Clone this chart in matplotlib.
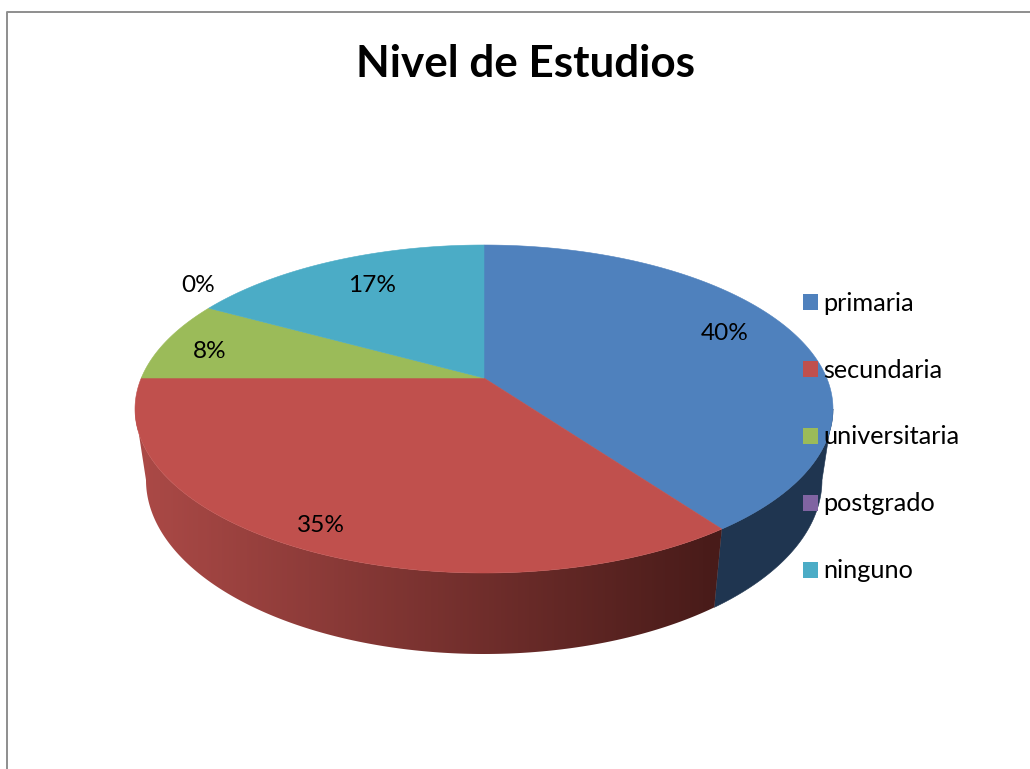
import numpy as np
import matplotlib
matplotlib.use("Agg")
import matplotlib.pyplot as plt
from matplotlib.colors import LinearSegmentedColormap
from matplotlib.patches import Patch, Polygon

categories = ["primaria", "secundaria", "universitaria", "postgrado", "ninguno"]
shares = [40, 35, 8, 0, 17]
colors = ["#4F81BD", "#C0504D", "#9BBB59", "#8064A2", "#4BACC6"]

plt.rcParams['font.family'] = ['Lato', 'DejaVu Sans']

# pixel positions of the percent labels
label_x = [725, 321, 210, 198, 372]
label_y = [333, 525, 352, 285, 286]

fig = plt.figure(figsize=(10.3, 7.69), dpi=100)
ax = fig.add_axes([0, 0, 1, 1])

# perspective of the disc, angle is clockwise from the top
persp = 0.189


def disc(theta, cy, rx, ry):
    u, v = np.sin(theta), np.cos(theta)
    w = 1 + persp * v
    x = 484 + rx * np.sqrt(1 - persp**2) * u / w
    y = cy - persp * ry - ry * (1 - persp**2) * v / w
    return x, y


def top(theta):
    return disc(theta, 409, 349, 164)


def bottom(theta):
    return disc(theta, 480, 338, 174)


def wall_outline(start, end):
    t = np.linspace(start, end, 200)
    xt, yt = top(t)
    xb, yb = bottom(t)
    return np.column_stack([np.r_[xt, xb[::-1]], np.r_[yt, yb[::-1]]])


edges = np.cumsum([0] + shares) / 100 * 2 * np.pi

# where the disc is widest, the side of the pie ends there
side_r = np.arccos(-persp)
side_l = 2 * np.pi - side_r

# side of the pie, only primaria and secundaria show
ax.add_patch(Polygon(wall_outline(side_r, edges[1]), closed=True, facecolor="#1F3550",
                     edgecolor="#1F3550", linewidth=0.4, zorder=2))

red_map = LinearSegmentedColormap.from_list("red_side", ["#AA4946", "#481B19"])
red_wall = Polygon(wall_outline(edges[1], side_l), closed=True, facecolor="none",
                   edgecolor="none", zorder=2)
ax.add_patch(red_wall)
# gradient runs along x, flat past both ends of the visible wall
shade = np.clip((np.arange(130, 730) - 146) / 570, 0, 1)
img = ax.imshow(shade.reshape(1, -1), cmap=red_map, aspect="auto",
                extent=(130, 730, 700, 370), zorder=2)
img.set_clip_path(red_wall)

ax.set_xlim(0, 1030)
ax.set_ylim(769, 0)
ax.axis("off")

# top of the pie
for i in range(len(shares)):
    if shares[i] == 0:
        continue
    t = np.linspace(edges[i], edges[i + 1], 200)
    x, y = top(t)
    pts = np.column_stack([np.r_[484, x], np.r_[378, y]])
    ax.add_patch(Polygon(pts, closed=True, facecolor=colors[i], edgecolor=colors[i], linewidth=0.4, zorder=3))

# percent labels
for i in range(len(shares)):
    ax.text(label_x[i], label_y[i], "%d%%" % shares[i], fontsize=17.6, color="black",
            ha="center", va="center", zorder=5)

# chart border, runs off the bottom and right of the picture
ax.plot([7, 7, 1030], [769, 11.5, 11.5], color="#8E8E8E", linewidth=1.4, zorder=1)

ax.text(526, 64, "Nivel de Estudios", fontsize=31.7, fontweight="bold", color="black",
        ha="center", va="center")

handles = [Patch(facecolor=c, edgecolor="none") for c in colors]
leg = ax.legend(handles, categories, loc="center left", bbox_to_anchor=(803, 437),
                bbox_transform=ax.transData, frameon=False, fontsize=18.2,
                handlelength=0.6, handleheight=0.6, handletextpad=0.2,
                labelspacing=1.74, borderpad=0, borderaxespad=0)
leg.set_zorder(6)

plt.savefig("out.png", dpi=100)
